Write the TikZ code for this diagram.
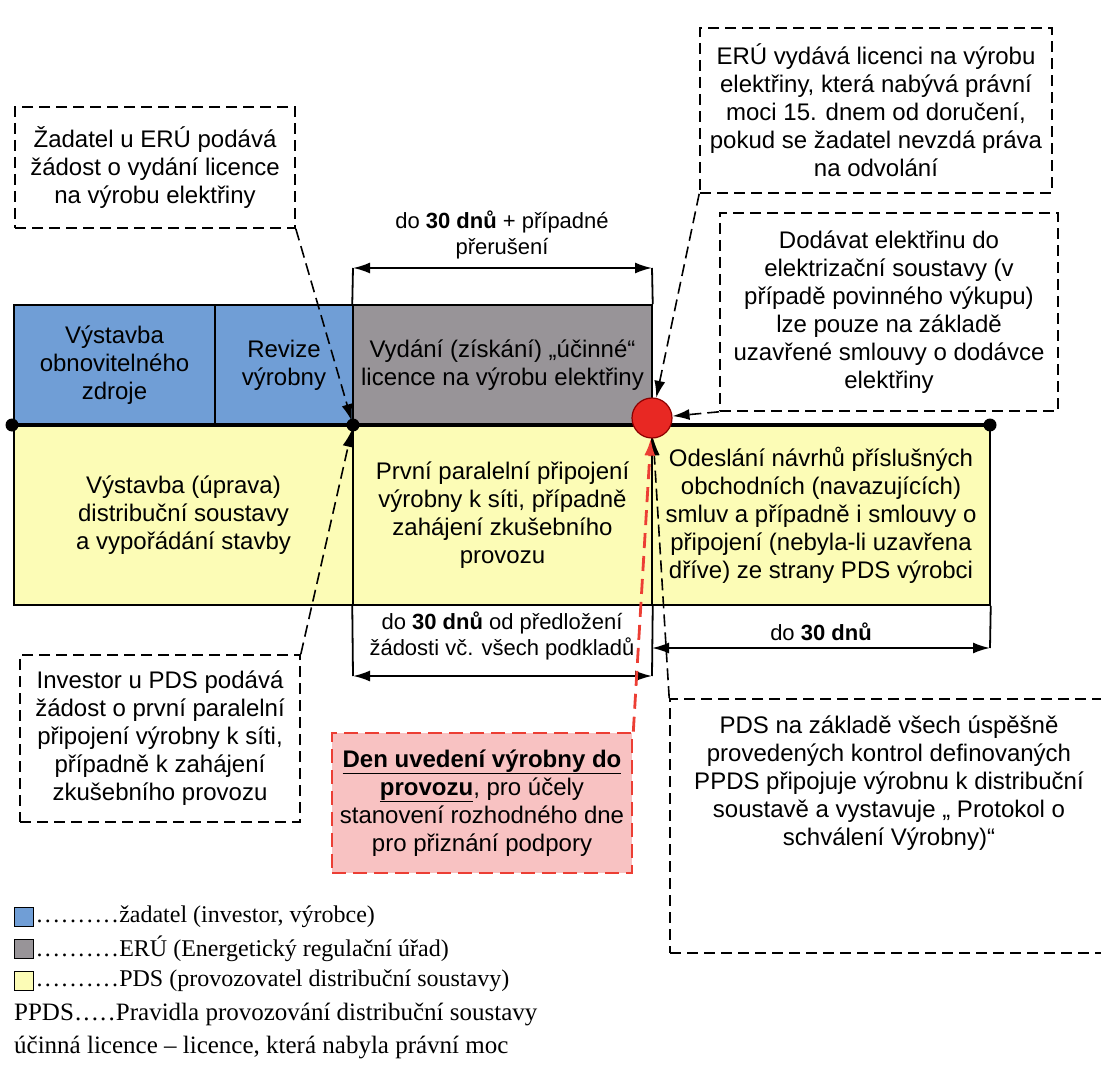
\documentclass[tikz,border=0pt]{standalone}
\usepackage{fontspec}
\setmainfont{Liberation Sans}
\newfontfamily\legfont{Liberation Serif}
\usepackage{tikz}
\usetikzlibrary{positioning, arrows.meta}
\tikzset{every node/.append style={execute at begin node={\hyphenpenalty=10000\exhyphenpenalty=10000\relax}}}
\definecolor{zadblue}{RGB}{112,158,214}
\definecolor{erugray}{RGB}{152,148,152}
\definecolor{pdsyel}{RGB}{252,252,182}
\definecolor{denred}{RGB}{236,62,52}
\definecolor{denpink}{RGB}{248,194,194}
\definecolor{dotred}{RGB}{232,40,35}
\newcommand\legdots[1]{\xleaders\hbox to 8.4pt{\hss.\hss}\hskip#1\relax}

\begin{document}
\begin{tikzpicture}[x=1pt,y=-1pt,font=\fontsize{24}{28}\selectfont,>={Latex[length=17pt,width=11pt]},
  blk/.style={draw,line width=1.5pt,align=center,inner sep=0pt},
  dbox/.style={draw,line width=1.6pt,dash pattern=on 11pt off 6pt,align=center,inner sep=0pt},
  dcon/.style={->,line width=1.6pt,dash pattern=on 12pt off 6pt},
  dim/.style={<->,line width=2pt},
  dimtxt/.style={align=center,font=\fontsize{22}{26}\selectfont},
  legsq/.style={draw,line width=1.2pt,minimum size=19,inner sep=0pt},
  legtxt/.style={font=\legfont\fontsize{24}{30}\selectfont,inner sep=0pt,anchor=west}]
  \useasboundingbox (0,0) rectangle (1101,1075);
  % horni pas
  \node[blk,fill=zadblue,minimum width=201,minimum height=120](vyst) at (114.5,365){Výstavba\\obnovitelného\\zdroje};
  \node[blk,fill=zadblue,minimum width=138,minimum height=120](rev) at (284,365){Revize\\výrobny};
  \node[blk,fill=erugray,minimum width=299,minimum height=120](lic) at (502.5,365){Vydání (získání) „účinné“\\licence na výrobu elektřiny};
  % dolni pas
  \node[blk,fill=pdsyel,minimum width=339,minimum height=180](dist) at (183.5,515){Výstavba (úprava)\\distribuční soustavy\\a vypořádání stavby};
  \node[blk,fill=pdsyel,minimum width=299,minimum height=180](par) at (502.5,515){První paralelní připojení\\výrobny k síti, případně\\zahájení zkušebního\\provozu};
  \node[blk,fill=pdsyel,minimum width=338,minimum height=180](odes) at (821,515){Odeslání návrhů příslušných\\obchodních (navazujících)\\smluv a případně i smlouvy o\\připojení (nebyla-li uzavřena\\dříve) ze strany PDS výrobci};
  % casova osa
  \coordinate (t0) at (12,425);\coordinate (t1) at (353,425);\coordinate (t3) at (990,425);
  \draw[line width=4pt](t0)--(t3);
  \foreach \p in {t0,t1,t3} \fill (\p) circle (6.5);
  \node[circle,draw=red!55!black,fill=dotred,line width=1.2pt,minimum size=40,inner sep=0pt](c) at (652,418){};
  % lhuty
  \coordinate (d1a) at (353,268);\coordinate (d1b) at (652,268);
  \draw[line width=1.8pt](lic.north west)--(d1a) (lic.north east)--(d1b);
  \draw[dim](d1a)--(d1b);
  \node[dimtxt](dl1) at (502,235){do \textbf{30 dnů} + případné\\přerušení};
  \coordinate (d2a) at (353,676);\coordinate (d2b) at (652,676);
  \draw[line width=1.8pt](par.south west)--(d2a) (par.south east)--(d2b);
  \draw[dim](d2a)--(d2b);
  \node[dimtxt](dl2) at (502,636){do \textbf{30 dnů} od předložení\\žádosti vč. všech podkladů};
  \coordinate (d3a) at (652,648);\coordinate (d3b) at (990,648);
  \draw[line width=1.8pt](odes.south east)--(d3b);
  \draw[dim](d3a)--(d3b);
  \node[dimtxt](dl3) at (821,632){do \textbf{30 dnů}};
  % poznamky
  \node[dbox,minimum width=280,minimum height=121](zad) at (155,167.5){Žadatel u ERÚ podává\\žádost o vydání licence\\na výrobu elektřiny};
  \node[dbox,minimum width=352,minimum height=165](eru) at (876,110.5){ERÚ vydává licenci na výrobu\\elektřiny, která nabývá právní\\moci 15. dnem od doručení,\\pokud se žadatel nevzdá práva\\na odvolání};
  \node[dbox,minimum width=338,minimum height=198](dod) at (889,312){Dodávat elektřinu do\\elektrizační soustavy (v\\případě povinného výkupu)\\lze pouze na základě\\uzavřené smlouvy o dodávce\\elektřiny};
  \node[dbox,minimum width=280,minimum height=167](inv) at (160,738.5){Investor u PDS podává\\žádost o první paralelní\\připojení výrobny k síti,\\případně k zahájení\\zkušebního provozu};
  \node[dbox,draw=denred,line width=2.6pt,dash pattern=on 14pt off 7pt,fill=denpink,minimum width=300,minimum height=140](den) at (482,803){\underline{\textbf{Den uvedení výrobny do}}\\\underline{\textbf{provozu}}, pro účely\\stanovení rozhodného dne\\pro přiznání podpory};
  \node[dbox,minimum width=438,minimum height=254](pds) at (889,826){};
  \node[align=center,below=14pt of pds.north](pdstxt){PDS na základě všech úspěšně\\provedených kontrol definovaných\\PPDS připojuje výrobnu k distribuční\\soustavě a vystavuje „ Protokol o\\schválení Výrobny)“};
  \draw[dcon,shorten >=4pt](zad.south east)--(t1);
  \draw[dcon,shorten >=5pt](inv.north east)--(t1);
  \draw[dcon](eru.south west)--(c);
  \draw[dcon](dod.south west)--(c);
  \draw[dcon](pds.north west)--(c);
  \draw[->,denred,line width=2.8pt,dash pattern=on 15pt off 8pt](den.north east)--(c);
  % legenda
  \node[legsq,fill=zadblue](k1) at (24,917){};
  \node[legtxt,right=1pt of k1](k1t){\legdots{84pt}žadatel (investor, výrobce)};
  \node[legsq,fill=erugray](k2) at (24,949){};
  \node[legtxt,right=1pt of k2](k2t){\legdots{84pt}ERÚ (Energetický regulační úřad)};
  \node[legsq,fill=pdsyel](k3) at (24,981){};
  \node[legtxt,right=1pt of k3](k3t){\legdots{84pt}PDS (provozovatel distribuční soustavy)};
  \node[legtxt,font=\legfont\fontsize{25}{30}\selectfont](k4t) at (14,1014){PPDS\legdots{42pt}Pravidla provozování distribuční soustavy};
  \node[legtxt,font=\legfont\fontsize{25}{30}\selectfont](k5t) at (14,1047){účinná licence – licence, která nabyla právní moc};
\end{tikzpicture}
\end{document}
